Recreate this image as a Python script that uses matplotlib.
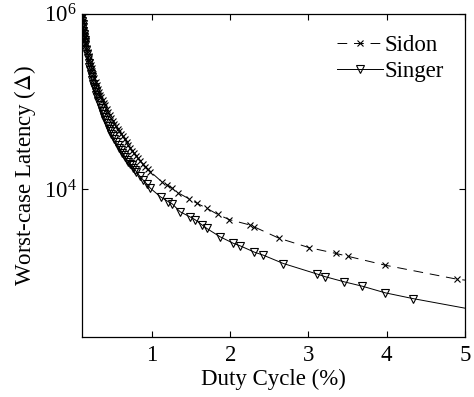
import numpy as np
import matplotlib
matplotlib.use("Agg")
import matplotlib.pyplot as plt

plt.rcParams['font.family'] = ['Liberation Serif', 'DejaVu Serif']
plt.rcParams['mathtext.fontset'] = 'stix'

# Duty cycle (%) and worst-case latency
sidon_duty = [0.100, 0.105, 0.110, 0.115, 0.120, 0.125, 0.130, 0.135, 0.140, 0.145,
              0.150, 0.160, 0.170, 0.180, 0.190, 0.200, 0.210, 0.220, 0.230, 0.240,
              0.250, 0.265, 0.280, 0.295, 0.310, 0.325, 0.340, 0.355, 0.370, 0.385,
              0.400, 0.420, 0.440, 0.460, 0.480, 0.500, 0.520, 0.540, 0.560, 0.580,
              0.600, 0.625, 0.650, 0.675, 0.700, 0.725, 0.750, 0.775, 0.800, 0.825,
              0.850, 0.880, 0.910, 0.945, 0.980, 1.13, 1.19, 1.26, 1.33, 1.47,
              1.57, 1.70, 1.84, 1.99, 2.25, 2.30, 2.62, 3.01, 3.35, 3.51,
              3.98, 4.90, 5.00]
sidon_latency = [1.07e6, 9.9e5, 9.1e5, 8.4e5, 7.8e5, 7.2e5, 6.6e5, 6.25e5, 5.9e5, 5.5e5,
                 5.1e5, 4.6e5, 4.1e5, 3.7e5, 3.3e5, 3.05e5, 2.8e5, 2.6e5, 2.4e5, 2.23e5,
                 2.06e5, 1.86e5, 1.68e5, 1.53e5, 1.40e5, 1.29e5, 1.19e5, 1.11e5, 1.03e5, 9.6e4,
                 9.0e4, 8.3e4, 7.6e4, 7.0e4, 6.4e4, 6.0e4, 5.6e4, 5.2e4, 4.8e4, 4.55e4,
                 4.3e4, 4.0e4, 3.7e4, 3.45e4, 3.2e4, 2.95e4, 2.75e4, 2.55e4, 2.4e4, 2.25e4,
                 2.1e4, 1.95e4, 1.8e4, 1.68e4, 1.58e4, 1.20e4, 1.12e4, 1.02e4, 9100, 7760,
                 6920, 6030, 5130, 4470, 3890, 3720, 2750, 2140, 1840, 1700,
                 1350, 933, 912]

singer_duty = [0.100, 0.105, 0.110, 0.115, 0.120, 0.125, 0.130, 0.135, 0.140, 0.145,
               0.150, 0.160, 0.170, 0.180, 0.190, 0.200, 0.210, 0.220, 0.230, 0.240,
               0.250, 0.260, 0.270, 0.280, 0.290, 0.300, 0.315, 0.330, 0.345, 0.360,
               0.375, 0.390, 0.405, 0.420, 0.435, 0.450, 0.465, 0.480, 0.500, 0.520,
               0.540, 0.560, 0.580, 0.600, 0.620, 0.640, 0.660, 0.680, 0.700, 0.720,
               0.740, 0.760, 0.780, 0.800, 0.845, 0.890, 0.935, 0.980, 1.11, 1.21,
               1.26, 1.36, 1.49, 1.55, 1.64, 1.70, 1.87, 2.04, 2.13, 2.31,
               2.42, 2.68, 3.11, 3.21, 3.46, 3.69, 3.98, 4.33, 5.00]
singer_latency = [1.0e6, 9.1e5, 8.3e5, 7.6e5, 7.0e5, 6.4e5, 5.9e5, 5.5e5, 5.1e5, 4.75e5,
                  4.4e5, 3.9e5, 3.45e5, 3.1e5, 2.77e5, 2.5e5, 2.27e5, 2.07e5, 1.89e5, 1.74e5,
                  1.6e5, 1.48e5, 1.37e5, 1.28e5, 1.19e5, 1.11e5, 1.01e5, 9.2e4, 8.4e4, 7.7e4,
                  7.1e4, 6.6e4, 6.1e4, 5.7e4, 5.3e4, 4.9e4, 4.6e4, 4.3e4, 4.0e4, 3.7e4,
                  3.43e4, 3.2e4, 2.97e4, 2.8e4, 2.6e4, 2.45e4, 2.3e4, 2.16e4, 2.04e4, 1.95e4,
                  1.87e4, 1.76e4, 1.67e4, 1.58e4, 1.4e4, 1.26e4, 1.14e4, 1.02e4, 8130, 7160,
                  6760, 5500, 4790, 4470, 3890, 3550, 2850, 2400, 2240, 1900,
                  1760, 1410, 1070, 1000, 870, 776, 653, 562, 436]

fig = plt.figure(figsize=(4.74, 3.97), dpi=100)
ax = fig.add_axes([0.172, 0.151, 0.809, 0.814])

ax.plot(sidon_duty, sidon_latency, color='black', linestyle=(0, (10, 7)), linewidth=0.7,
        marker='x', markersize=4.5, markeredgewidth=0.8, markevery=slice(0, -1),
        label='Sidon')
ax.plot(singer_duty, singer_latency, color='black', linestyle='-', linewidth=0.7,
        marker='v', markersize=6, markerfacecolor='none', markeredgewidth=0.8,
        markevery=slice(0, -1), label='Singer')

ax.set_yscale('log')
ax.set_xlim(0.1, 5)
ax.set_ylim(204, 1e6)
ax.set_xticks([1, 2, 3, 4, 5])
ax.set_yticks([1e4, 1e6])
ax.yaxis.set_minor_locator(matplotlib.ticker.NullLocator())
ax.tick_params(direction='in', top=True, right=True, labelsize=16.5, length=4, width=0.8)
ax.tick_params(axis='x', pad=6)

for s in ax.spines.values():
    s.set_linewidth(0.9)

ax.set_xlabel('Duty Cycle (%)', fontsize=16.5, labelpad=2)
ax.set_ylabel(r'Worst-case Latency ($\Delta$)', fontsize=16.5, labelpad=4)

ax.legend(loc='upper right', frameon=False, fontsize=16.5, handlelength=2.0,
          handletextpad=0.1, labelspacing=0.25, borderaxespad=0.5)

fig.savefig('out.png', dpi=100)
